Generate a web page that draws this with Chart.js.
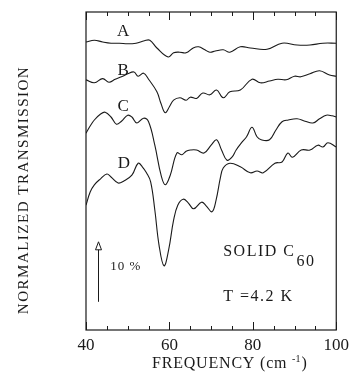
<!DOCTYPE html>
<html>
<head>
<meta charset="utf-8">
<script src="https://cdn.jsdelivr.net/npm/chart.js@4.4.1/dist/chart.umd.min.js"></script>
<style>
  html, body { margin: 0; padding: 0; background: #fff; }
  #wrap { width: 354px; height: 387px; }
</style>
</head>
<body>
<div id="wrap"><canvas id="spectra"></canvas></div>
<script>
// curve A
var freqA = [40, 42, 44, 46, 48, 50, 52, 54, 55.3, 57, 59.7, 61, 62.5, 64, 65.7, 67, 68.5, 69.7, 71, 72.9, 74.5, 77, 79.4, 83.4, 87, 90.6, 93.7, 96.8, 100];
var transA = [48.0, 48.3, 48.0, 47.8, 47.8, 47.7, 47.8, 48.2, 48.3, 47.0, 45.5, 46.2, 46.3, 46.2, 47.0, 47.2, 46.7, 46.3, 46.5, 46.7, 46.3, 47.2, 47.0, 46.8, 47.8, 47.5, 47.5, 47.8, 47.8];
// curve B
var freqB = [40, 42, 44, 45.5, 47, 48.5, 50, 51.5, 52.5, 53.8, 55, 57, 58, 59, 60, 61, 62.5, 64, 65, 66.5, 68, 69.7, 71.3, 72.9, 74.5, 77, 79.8, 81.8, 84, 86, 88, 90, 91.5, 93.7, 96, 98.4, 100];
var transB = [41.7, 41.2, 41.9, 41.3, 41.8, 42.2, 42.7, 43.0, 42.3, 42.8, 41.8, 39.7, 37.7, 36.2, 37.2, 38.3, 38.7, 38.3, 38.8, 38.6, 39.5, 39.2, 40.0, 38.7, 39.7, 40.0, 41.8, 41.2, 41.5, 41.8, 41.7, 42.3, 42.2, 42.7, 43.2, 42.5, 42.3];
// curve C
var freqC = [40, 41, 42, 43.5, 44.6, 46, 47.3, 48.5, 50, 51, 52.2, 53.8, 55, 56.5, 58, 59, 60.2, 61.8, 63, 64, 65, 66.5, 68.3, 70, 71.3, 72.5, 73.8, 75, 76, 77.4, 78.5, 79.8, 81, 82, 84, 85.5, 87, 88.5, 90.6, 92.5, 94.4, 96, 97.6, 99, 100];
var transC = [32.8, 34.0, 35.0, 36.0, 36.3, 35.5, 34.3, 34.8, 35.8, 35.5, 34.5, 35.3, 34.7, 30.8, 25.8, 24.2, 25.8, 29.5, 29.2, 29.8, 30.0, 30.0, 29.5, 30.8, 31.7, 30.0, 28.3, 28.8, 30.0, 31.3, 32.2, 33.8, 32.2, 31.7, 31.7, 33.3, 34.7, 35.0, 35.2, 34.8, 34.5, 35.2, 35.8, 35.7, 35.5];
// curve D
var freqD = [40, 41, 42, 43.5, 45, 46, 47.7, 49, 51, 52.5, 53.5, 54.5, 55.5, 56.5, 57.5, 58.7, 59.8, 61, 62, 63.3, 64.5, 65.8, 67.7, 68.8, 70.2, 71.2, 72.2, 72.9, 74.5, 77, 79.4, 81, 82.5, 85.3, 87, 88.4, 89.5, 91.6, 93.7, 95.6, 96.8, 98, 100];
var transD = [20.8, 23.0, 24.2, 25.2, 26.0, 25.5, 24.5, 24.8, 25.8, 27.8, 27.2, 26.2, 24.7, 20.0, 14.2, 10.7, 13.3, 18.3, 20.8, 21.8, 21.2, 20.2, 21.3, 20.7, 19.7, 21.7, 25.3, 27.0, 27.8, 27.2, 26.2, 26.5, 26.2, 27.8, 28.0, 29.5, 28.8, 30.0, 30.0, 30.8, 30.5, 31.2, 30.5];

var curveNames = ['A', 'B', 'C', 'D'];
var xTicks = [40, 60, 80, 100];

var serif = '"Liberation Serif", "DejaVu Serif", serif';
var ink = '#1a1a1a';

function pts(f, t) {
    var out = [];
    for (var i = 0; i < f.length; i++) out.push({ x: f[i], y: t[i] });
    return out;
}

function curve(name, f, t) {
    return {
        label: name,
        data: pts(f, t),
        borderColor: ink,
        borderWidth: 1.1,
        pointRadius: 0,
        fill: false,
        tension: 0.4
    };
}

// frame, inward ticks and the text notes
var decor = {
    id: 'decor',
    afterDraw: function (chart) {
        var ctx = chart.ctx;
        var a = chart.chartArea;
        var xs = chart.scales.x;
        var ys = chart.scales.y;
        ctx.save();
        ctx.strokeStyle = ink;
        ctx.lineWidth = 1.2;
        ctx.strokeRect(a.left, a.top, a.right - a.left, a.bottom - a.top);

        // ticks every 5 cm-1, longer on the labelled ones
        ctx.lineWidth = 1;
        for (var v = 40; v <= 100; v += 5) {
            var px = Math.round(xs.getPixelForValue(v)) + 0.5;
            var len = (v % 20 === 0) ? 8 : 4;
            ctx.beginPath();
            ctx.moveTo(px, a.bottom); ctx.lineTo(px, a.bottom - len);
            ctx.moveTo(px, a.top); ctx.lineTo(px, a.top + len);
            ctx.stroke();
        }

        ctx.fillStyle = ink;
        ctx.textBaseline = 'middle';
        ctx.textAlign = 'center';
        ctx.font = '17px ' + serif;
        var labelPos = [[48.9, 49.7], [48.9, 43.3], [48.9, 37.2], [49.1, 27.8]];
        for (var i = 0; i < curveNames.length; i++) {
            ctx.fillText(curveNames[i], xs.getPixelForValue(labelPos[i][0]), ys.getPixelForValue(labelPos[i][1]));
        }

        // 10 % arrow
        var ax = Math.round(xs.getPixelForValue(42.9)) + 0.5;
        var y0 = ys.getPixelForValue(4.7);
        var y1 = ys.getPixelForValue(14.7);
        ctx.beginPath();
        ctx.moveTo(ax, y0); ctx.lineTo(ax, y1 + 8);
        ctx.stroke();
        ctx.beginPath();
        ctx.moveTo(ax, y1); ctx.lineTo(ax - 3, y1 + 8); ctx.lineTo(ax + 3, y1 + 8); ctx.closePath();
        ctx.stroke();

        ctx.textAlign = 'left';
        ctx.font = '13px ' + serif;
        ctx.letterSpacing = '1px';
        ctx.fillText('10 %', xs.getPixelForValue(45.8), ys.getPixelForValue(10.5));

        ctx.font = '16px ' + serif;
        ctx.letterSpacing = '1.5px';
        var sx = xs.getPixelForValue(72.9);
        var sy = ys.getPixelForValue(13.0);
        ctx.fillText('SOLID C', sx, sy);
        var w = ctx.measureText('SOLID C').width;
        ctx.fillText('60', sx + w + 1, sy + 10);
        ctx.fillText('T =4.2 K', sx, ys.getPixelForValue(5.5));

        // axis titles
        ctx.font = '16px ' + serif;
        ctx.letterSpacing = '0.8px';
        ctx.textAlign = 'left';
        var tx = 152, ty = 364;
        var main = 'FREQUENCY (cm ';
        ctx.fillText(main, tx, ty);
        var mw = ctx.measureText(main).width;
        ctx.font = '10px ' + serif;
        ctx.letterSpacing = '0px';
        ctx.fillText('-1', tx + mw, ty - 5);
        var sw = ctx.measureText('-1').width;
        ctx.font = '16px ' + serif;
        ctx.fillText(')', tx + mw + sw + 1, ty);

        ctx.translate(24, 190);
        ctx.rotate(-Math.PI / 2);
        ctx.textAlign = 'center';
        ctx.font = '15px ' + serif;
        ctx.letterSpacing = '1.5px';
        ctx.fillText('NORMALIZED TRANSMISSION', 0, 0);
        ctx.restore();
    }
};

new Chart(document.getElementById('spectra'), {
    type: 'line',
    data: {
        datasets: [
            curve('A', freqA, transA),
            curve('B', freqB, transB),
            curve('C', freqC, transC),
            curve('D', freqD, transD)
        ]
    },
    options: {
        responsive: true,
        maintainAspectRatio: false,
        animation: false,
        events: [],
        layout: { padding: { left: 86, right: 17, top: 12, bottom: 0 } },
        plugins: { legend: { display: false }, tooltip: { enabled: false } },
        scales: {
            x: {
                type: 'linear',
                min: 40,
                max: 100,
                afterFit: function (s) { s.height = 57; },
                afterBuildTicks: function (s) {
                    s.ticks = xTicks.map(function (v) { return { value: v }; });
                },
                grid: { display: false, drawTicks: false },
                border: { display: false },
                ticks: {
                    autoSkip: false,
                    maxRotation: 0,
                    padding: 5,
                    color: ink,
                    font: { family: serif, size: 17 }
                }
            },
            y: {
                display: false,
                min: 0,
                max: 53
            }
        }
    },
    plugins: [decor]
});
</script>
</body>
</html>
